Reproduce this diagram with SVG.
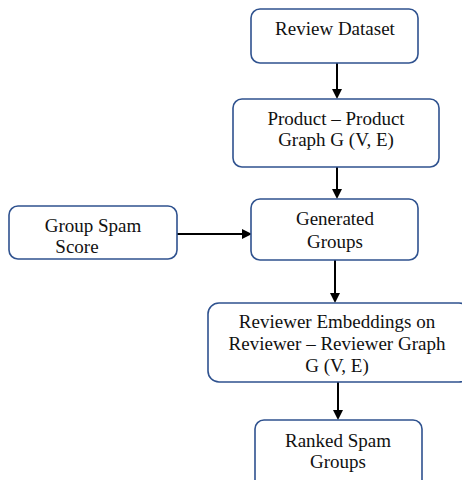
<svg xmlns="http://www.w3.org/2000/svg" width="462" height="480" viewBox="0 0 462 480">
<defs>
<style>
.box{fill:#fff;stroke:#2f528f;stroke-width:1.6}
.t{font-family:"Liberation Serif","Times New Roman",serif;font-size:19px;fill:#111;text-anchor:middle}
.c{stroke:#000;stroke-width:2;fill:none}
</style>
<marker id="ah" markerWidth="10" markerHeight="10" refX="8" refY="5" orient="auto" markerUnits="userSpaceOnUse">
<path d="M0,0 L10,5 L0,10 z" fill="#000"/>
</marker>
</defs>
<rect width="462" height="480" fill="#fff"/>
<g id="connectors">
<line class="c" x1="337" y1="63" x2="337" y2="97" marker-end="url(#ah)"/>
<line class="c" x1="337" y1="167" x2="337" y2="197" marker-end="url(#ah)"/>
<line class="c" x1="177" y1="234" x2="250" y2="234" marker-end="url(#ah)"/>
<line class="c" x1="335" y1="260" x2="335" y2="301" marker-end="url(#ah)"/>
<line class="c" x1="338" y1="382" x2="338" y2="418" marker-end="url(#ah)"/>
</g>
<g id="review-dataset">
<rect class="box" x="251" y="9" width="167" height="54" rx="9"/>
<text class="t" x="335" y="35">Review Dataset</text>
</g>
<g id="product-graph">
<rect class="box" x="233" y="99" width="206" height="68" rx="9"/>
<text class="t" x="336" y="125">Product – Product</text>
<text class="t" x="336" y="146">Graph G (V, E)</text>
</g>
<g id="group-spam-score">
<rect class="box" x="9" y="206" width="168" height="53" rx="9"/>
<text class="t" x="93" y="232">Group Spam</text>
<text class="t" x="77" y="253">Score</text>
</g>
<g id="generated-groups">
<rect class="box" x="251" y="199" width="167" height="61" rx="9"/>
<text class="t" x="335" y="225">Generated</text>
<text class="t" x="335" y="248">Groups</text>
</g>
<g id="reviewer-embeddings">
<rect class="box" x="208" y="303" width="262" height="79" rx="11"/>
<text class="t" x="337" y="328">Reviewer Embeddings on</text>
<text class="t" x="337" y="350">Reviewer – Reviewer Graph</text>
<text class="t" x="337" y="372">G (V, E)</text>
</g>
<g id="ranked-spam-groups">
<rect class="box" x="255" y="420" width="167" height="70" rx="9"/>
<text class="t" x="338" y="447">Ranked Spam</text>
<text class="t" x="338" y="468">Groups</text>
</g>
</svg>
